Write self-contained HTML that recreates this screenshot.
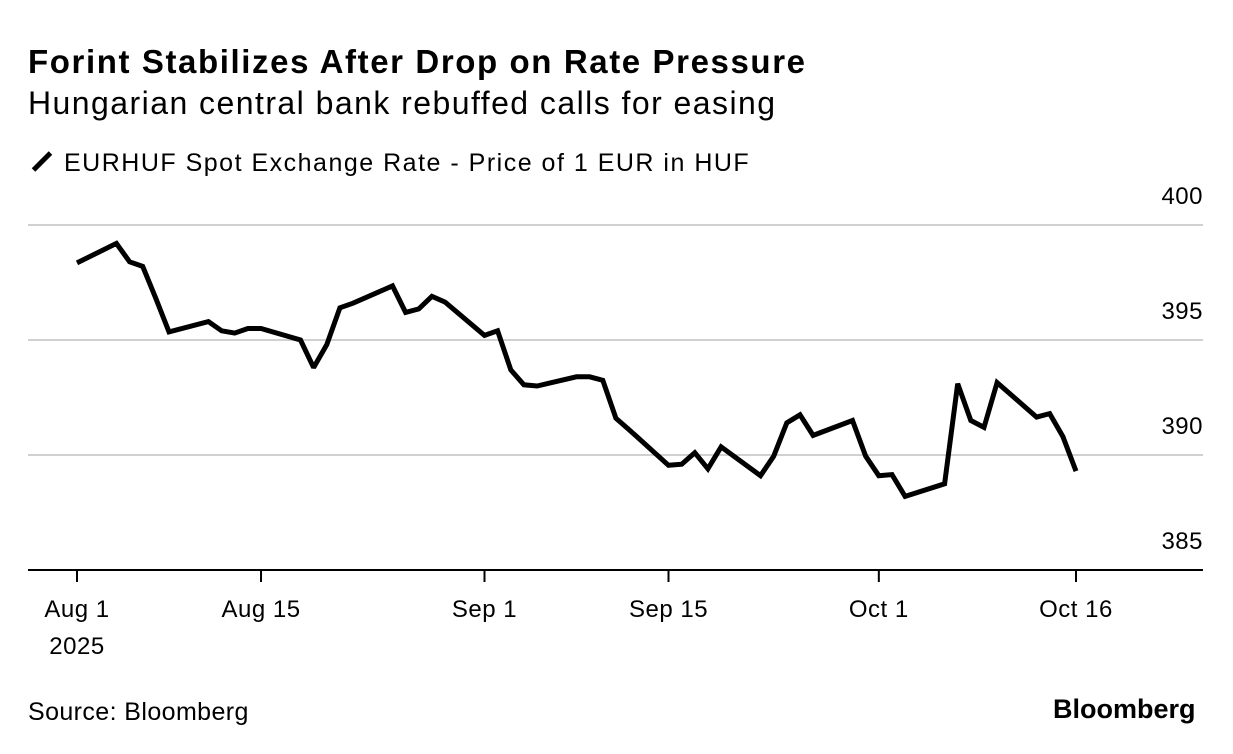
<!DOCTYPE html>
<html><head><meta charset="utf-8">
<style>
body{margin:0;background:#fff;font-family:"Liberation Sans",sans-serif;}
#wrap{position:relative;width:1233px;height:754px;overflow:hidden;}
.t{position:absolute;color:#000;white-space:nowrap;}
</style></head>
<body>
<div id="wrap">
<div class="t" style="left:28px;top:43px;font-size:33px;font-weight:bold;letter-spacing:1.6px">Forint Stabilizes After Drop on Rate Pressure</div>
<div class="t" style="left:28px;top:85px;font-size:32px;letter-spacing:1.45px">Hungarian central bank rebuffed calls for easing</div>
<div class="t" style="left:30px;top:149px;font-size:25px;letter-spacing:1.5px"><span style="display:inline-block;width:24px;height:5px;background:#000;transform:rotate(-45deg);vertical-align:middle;margin-right:10px;position:relative;top:-3px"></span>EURHUF Spot Exchange Rate - Price of 1 EUR in HUF</div>
<svg id="chart" width="1233" height="754" style="position:absolute;left:0;top:0"></svg>
<div class="t" style="left:28px;top:698px;font-size:25px;letter-spacing:0.4px">Source: Bloomberg</div>
<div class="t" style="left:1053px;top:694px;font-size:27px;font-weight:bold;letter-spacing:0px">Bloomberg</div>
</div>
<script>
const dayOffsets=[0,3,4,5,6,7,10,11,12,13,14,17,18,19,20,21,24,25,26,27,28,31,32,33,34,35,38,39,40,41,42,45,46,47,48,49,52,53,54,55,56,59,60,61,62,63,66,67,68,69,70,73,74,75,76];
const rates=[398.35,399.2,398.4,398.2,396.8,395.35,395.8,395.4,395.3,395.5,395.5,395.0,393.8,394.8,396.4,396.6,397.35,396.2,396.35,396.9,396.65,395.2,395.4,393.7,393.05,393.0,393.4,393.4,393.25,391.6,391.1,389.55,389.6,390.1,389.4,390.35,389.1,389.95,391.4,391.75,390.85,391.5,389.95,389.1,389.15,388.2,388.75,393.1,391.5,391.2,393.15,391.65,391.8,390.8,389.3];
const yTicks=[400,395,390,385];
const xTickDays=[0,14,31,45,61,76];
const xTickLabels=["Aug 1","Aug 15","Sep 1","Sep 15","Oct 1","Oct 16"];
</script>
<script>
const svg=document.getElementById('chart');
const NS='http://www.w3.org/2000/svg';
const X=d=>77+d*(999/76);
const Y=v=>570-(v-385)*23;
function mk(tag,attrs){const e=document.createElementNS(NS,tag);for(const k in attrs)e.setAttribute(k,attrs[k]);svg.appendChild(e);return e;}
yTicks.forEach(v=>{
  if(v!==385){const g=mk('line',{x1:28,x2:1203,y1:Y(v),y2:Y(v),stroke:'#d0d0d0','stroke-width':2});
  
  }
  const t=mk('text',{x:1203,y:Y(v)-21,'text-anchor':'end','font-size':24,'letter-spacing':0.5,'font-family':'Liberation Sans, sans-serif',fill:'#000'});
  t.textContent=v;
  
  
});
const ax=mk('line',{x1:28,x2:1203,y1:570,y2:570,stroke:'#000','stroke-width':2});


xTickDays.forEach((d,i)=>{
  const tk=mk('line',{x1:X(d),x2:X(d),y1:570,y2:582,stroke:'#000','stroke-width':2});
  
  
  const t=mk('text',{x:X(d),y:617,'text-anchor':'middle','font-size':24,'letter-spacing':0.5,'font-family':'Liberation Sans, sans-serif',fill:'#000'});
  t.textContent=xTickLabels[i];
  
  
});
const yr=mk('text',{x:X(0),y:654,'text-anchor':'middle','font-size':24,'letter-spacing':0.5,'font-family':'Liberation Sans, sans-serif',fill:'#000'});
yr.textContent='2025';


const pts=dayOffsets.map((d,i)=>X(d).toFixed(1)+','+Y(rates[i]).toFixed(1)).join(' ');
const line=mk('polyline',{points:pts,fill:'none',stroke:'#000','stroke-width':5,'stroke-linejoin':'miter','stroke-miterlimit':2});


</script>
</body></html>
